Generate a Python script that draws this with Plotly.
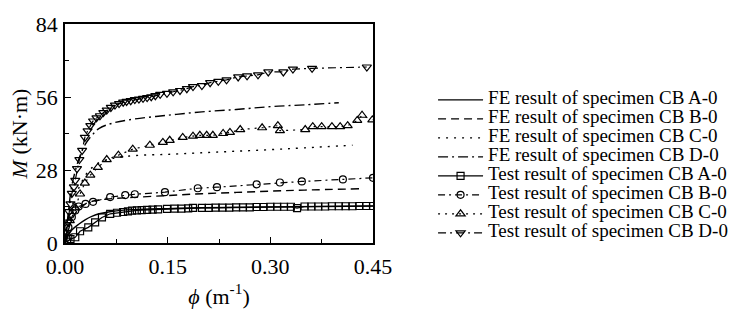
import plotly.graph_objects as go

# ---------------- data ----------------
fe_a_x = [0.0, 0.005, 0.01, 0.02, 0.03, 0.04, 0.05, 0.07, 0.10, 0.15, 0.20, 0.30, 0.45]
fe_a_y = [0.0, 3.0, 5.0, 7.2, 9.0, 10.3, 11.2, 12.2, 12.8, 13.2, 13.5, 13.8, 14.2]

fe_b_x = [0.0, 0.005, 0.01, 0.02, 0.03, 0.04, 0.06, 0.10, 0.15, 0.20, 0.25, 0.30, 0.35, 0.43]
fe_b_y = [0.0, 5.0, 9.0, 13.0, 15.0, 16.0, 16.8, 17.5, 18.2, 18.9, 19.4, 19.9, 20.3, 20.8]

fe_c_x = [0.0, 0.005, 0.01, 0.02, 0.03, 0.04, 0.05, 0.07, 0.10, 0.15, 0.20, 0.25, 0.30, 0.35, 0.42]
fe_c_y = [0.0, 8.0, 14.0, 21.0, 26.0, 29.0, 30.8, 32.5, 33.5, 34.0, 34.6, 35.2, 35.8, 36.5, 37.5]

fe_d_x = [0.0, 0.005, 0.01, 0.02, 0.03, 0.04, 0.05, 0.07, 0.10, 0.15, 0.20, 0.25, 0.30, 0.35, 0.40]
fe_d_y = [0.0, 12.0, 22.0, 32.0, 38.0, 41.5, 44.0, 46.0, 47.5, 49.0, 50.3, 51.2, 52.3, 53.0, 53.8]

test_a_x = [0.003, 0.008, 0.015, 0.022, 0.034, 0.044, 0.054, 0.066, 0.076, 0.085, 0.092, 0.098,
            0.105, 0.112, 0.120, 0.128, 0.136, 0.149, 0.160, 0.170, 0.180, 0.187, 0.200, 0.210,
            0.220, 0.230, 0.240, 0.250, 0.260, 0.270, 0.280, 0.290, 0.300, 0.310, 0.320, 0.330,
            0.339, 0.350, 0.360, 0.370, 0.380, 0.390, 0.400, 0.410, 0.420, 0.430, 0.440, 0.450]
test_a_y = [0.5, 1.5, 2.2, 4.5, 6.0, 7.9, 9.8, 11.2, 11.6, 11.9, 12.1, 12.4,
            12.5, 12.6, 12.7, 12.8, 12.9, 13.1, 13.2, 13.2, 13.3, 13.5, 13.5, 13.5,
            13.6, 13.6, 13.6, 13.7, 13.7, 13.7, 13.8, 13.8, 13.9, 13.9, 13.9, 13.9,
            13.4, 14.0, 14.0, 14.0, 14.0, 14.1, 14.1, 14.1, 14.1, 14.2, 14.2, 14.2]

test_b_x = [0.002, 0.005, 0.010, 0.015, 0.020, 0.030, 0.041, 0.066, 0.088, 0.102, 0.146,
            0.194, 0.222, 0.280, 0.314, 0.346, 0.406, 0.450]
test_b_y = [2.0, 6.0, 10.0, 12.5, 14.0, 15.0, 15.8, 17.6, 18.4, 18.7, 19.5,
            21.0, 21.4, 22.5, 23.2, 23.6, 24.4, 25.0]

test_c_x = [0.002, 0.007, 0.015, 0.022, 0.029, 0.037, 0.048, 0.061, 0.078, 0.099, 0.124,
            0.143, 0.153, 0.172, 0.187, 0.197, 0.207, 0.216, 0.231, 0.241, 0.256, 0.288,
            0.311, 0.314, 0.351, 0.362, 0.375, 0.390, 0.402, 0.413, 0.427, 0.434, 0.449]
test_c_y = [3.7, 8.6, 13.5, 18.8, 23.0, 26.0, 29.0, 32.0, 33.7, 36.0, 37.5,
            38.6, 39.4, 40.5, 41.0, 41.3, 41.3, 41.3, 42.0, 42.4, 43.5, 44.2,
            45.0, 43.1, 43.5, 44.6, 44.6, 44.6, 44.6, 45.0, 47.0, 49.0, 47.2]

test_d_x = [0.002, 0.004, 0.006, 0.008, 0.010, 0.013, 0.015, 0.0175, 0.021, 0.025, 0.029,
            0.033, 0.037, 0.041, 0.046, 0.051, 0.056, 0.061, 0.067, 0.073, 0.079, 0.085,
            0.090, 0.096, 0.102, 0.108, 0.114, 0.120, 0.126, 0.132, 0.139, 0.149, 0.158,
            0.168, 0.178, 0.187, 0.200, 0.212, 0.224, 0.236, 0.253, 0.266, 0.282, 0.297,
            0.319, 0.333, 0.361, 0.441]
test_d_y = [4.0, 8.0, 12.0, 15.0, 19.0, 21.5, 24.0, 28.5, 32.0, 35.5, 40.5,
            43.0, 45.0, 46.8, 48.0, 48.8, 50.0, 51.0, 52.0, 52.9, 53.5, 54.0,
            54.3, 54.6, 55.0, 55.2, 55.5, 55.8, 56.1, 56.5, 57.0, 57.4, 58.0,
            58.5, 59.2, 60.0, 60.4, 61.5, 62.0, 62.6, 63.7, 64.1, 64.5, 65.6,
            65.6, 66.7, 67.0, 67.5]

x_ticks = [0.0, 0.15, 0.30, 0.45]
x_tick_labels = ["0.00", "0.15", "0.30", "0.45"]
y_ticks = [0, 28, 56, 84]
y_tick_labels = ["0", "28", "56", "84"]

names = [
    "FE result of specimen CB A-0",
    "FE result of specimen CB B-0",
    "FE result of specimen CB C-0",
    "FE result of specimen CB D-0",
    "Test result of specimen CB A-0",
    "Test result of specimen CB B-0",
    "Test result of specimen CB C-0",
    "Test result of specimen CB D-0",
]

FONT = "Liberation Serif, Times New Roman, serif"
LEGEND_TEXT_PX = 19


def legend_label(txt):
    return f'<span style="font-size:{LEGEND_TEXT_PX}px">{txt}</span>'


fig = go.Figure()

fe_series = [(fe_a_x, fe_a_y, "solid"), (fe_b_x, fe_b_y, "8px,5px"),
             (fe_c_x, fe_c_y, "2px,6px"), (fe_d_x, fe_d_y, "10px,4px,2px,4px")]
for (xs, ys, dash), nm in zip(fe_series, names[:4]):
    fig.add_trace(go.Scatter(x=xs, y=ys, mode="lines", name=legend_label(nm),
                             line=dict(color="black", width=1.4, dash=dash, shape="spline")))

test_series = [(test_a_x, test_a_y, "solid", "square-open", 7),
               (test_b_x, test_b_y, "7px,4px,2px,4px", "circle-open", 7),
               (test_c_x, test_c_y, "2px,5px", "triangle-up-open", 8),
               (test_d_x, test_d_y, "8px,4px,2px,4px", "triangle-down-open", 8)]
for (xs, ys, dash, sym, sz), nm in zip(test_series, names[4:]):
    fig.add_trace(go.Scatter(x=xs, y=ys, mode="lines+markers", name=legend_label(nm),
                             line=dict(color="black", width=1.2, dash=dash),
                             marker=dict(symbol=sym, size=sz, color="black",
                                         line=dict(color="black", width=1.2))))

axis_common = dict(showline=True, linecolor="black", linewidth=1.5, mirror=True,
                   ticks="inside", ticklen=6, tickwidth=1.2, tickcolor="black",
                   showgrid=False, zeroline=False,
                   tickfont=dict(family=FONT, size=22, color="black"))

fig.update_xaxes(range=[0, 0.45], tickvals=x_ticks, ticktext=x_tick_labels,
                 minor=dict(ticks="inside", ticklen=4, tickcolor="black", dtick=0.075, tick0=0),
                 ticklabelstandoff=3,
                 title=dict(text="<i>ϕ</i> (m<sup>-1</sup>)", font=dict(family=FONT, size=22, color="black"),
                            standoff=10),
                 **axis_common)
fig.update_yaxes(range=[0, 84], tickvals=y_ticks, ticktext=y_tick_labels,
                 minor=dict(ticks="inside", ticklen=4, tickcolor="black", dtick=14, tick0=0),
                 ticklabelstandoff=1,
                 title=dict(text="<i>M</i> (kN·m)", font=dict(family=FONT, size=22, color="black"),
                            standoff=2),
                 **axis_common)

fig.update_layout(
    width=755, height=320,
    margin=dict(l=65, r=382, t=19, b=77),
    plot_bgcolor="white", paper_bgcolor="white",
    showlegend=True,
    legend=dict(x=1.195, xanchor="left", y=0.35, yanchor="middle",
                font=dict(family=FONT, size=11, color="black"),
                itemwidth=45, tracegroupgap=0, bgcolor="rgba(0,0,0,0)"),
)

fig.write_html("out.html")
